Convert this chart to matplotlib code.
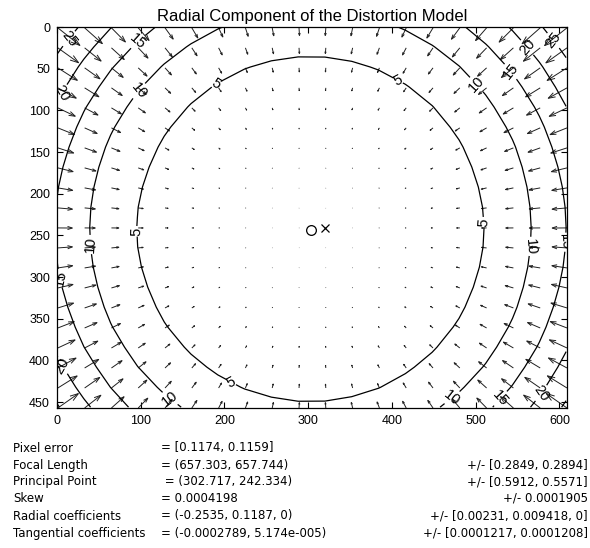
import numpy as np
import matplotlib.pyplot as plt
from matplotlib.collections import LineCollection

# calibration results
image_size = [640, 480]
focal_length = [657.303, 657.744]
principal_point = [302.717, 242.334]
skew = 0.0004198
radial_coeffs = [-0.2535, 0.1187, 0.0]
contour_levels = [5, 10, 15, 20, 25]

info_labels = ["Pixel error", "Focal Length", "Principal Point", "Skew",
               "Radial coefficients", "Tangential coefficients"]
info_values = ["= [0.1174, 0.1159]", "= (657.303, 657.744)", " = (302.717, 242.334)",
               "= 0.0004198", "= (-0.2535, 0.1187, 0)", "= (-0.0002789, 5.174e-005)"]
info_errors = ["", "+/- [0.2849, 0.2894]", "+/- [0.5912, 0.5571]",
               "+/- 0.0001905", "+/- [0.00231, 0.009418, 0]", "+/- [0.0001217, 0.0001208]"]

# where the contour labels sit (data coords)
label_spots = [(13, 13), (97, 18), (6, 79), (96, 75), (189, 67),
               (408, 63), (503, 67), (541, 54), (562, 24), (593, 16),
               (39, 261), (97, 245), (10, 300),
               (512, 234), (561, 263), (604, 258),
               (10, 404), (137, 443), (207, 428),
               (473, 446), (530, 446), (575, 437)]

nx, ny = image_size
fc = np.array(focal_length)
cc = np.array(principal_point)
k1, k2, k5 = radial_coeffs

# 20x20 grid of pixels, radial part of the distortion model only
mx, my = np.meshgrid(np.arange(0, nx, nx / 20), np.arange(0, ny, ny / 20))
px = mx.ravel()
py = my.ravel()
xn = (px - cc[0] - skew * fc[0] * (py - cc[1]) / fc[1]) / fc[0]
yn = (py - cc[1]) / fc[1]
r2 = xn ** 2 + yn ** 2
rad = k1 * r2 + k2 * r2 ** 2 + k5 * r2 ** 3
dx = fc[0] * xn * rad
dy = fc[1] * yn * rad
dr = np.sqrt(dx ** 2 + dy ** 2).reshape(mx.shape)

# matlab style quiver autoscale
n = np.sqrt(px.size)
delx = (px.max() - px.min()) / n
dely = (py.max() - py.min()) / n
s = 0.9 / np.max(np.sqrt((dx ** 2 + dy ** 2) / (delx ** 2 + dely ** 2)))
u = dx * s
v = dy * s
x0 = px + 1
y0 = py + 1
a, b = 0.33, 0.33
segs = []
for xi, yi, ui, vi in zip(x0, y0, u, v):
    tx, ty = xi + ui, yi + vi
    segs.append([(xi, yi), (tx, ty)])
    segs.append([(tx - a * (ui + b * vi), ty - a * (vi - b * ui)), (tx, ty),
                 (tx - a * (ui - b * vi), ty - a * (vi + b * ui))])

fig = plt.figure(figsize=(5.9, 5.48), dpi=100)
plt.rcParams['font.family'] = ['Liberation Sans', 'DejaVu Sans']
ax = fig.add_axes([57 / 590, 1 - 408 / 548, 510 / 590, 381 / 548])

ax.add_collection(LineCollection(segs, colors='#202020', linewidths=0.7))
ax.plot(cc[0] + 1, cc[1] + 1, 'o', mfc='none', mec='k', ms=7, mew=0.9)
ax.plot((nx - 1) / 2 + 1, (ny - 1) / 2 + 1, 'x', color='k', ms=6, mew=0.9)

cs = ax.contour(mx, my, dr, levels=contour_levels, colors='k', linewidths=0.9)
ax.clabel(cs, fmt='%d', fontsize=10.5, inline=True, inline_spacing=1, manual=label_spots)

ax.set_xlim(0, 609)
ax.set_ylim(457, 0)
ax.set_xticks(range(0, 601, 100))
ax.set_yticks(range(0, 451, 50))
ax.tick_params(direction='in', length=4, labelsize=9, pad=5, top=True, right=True)
for sp in ax.spines.values():
    sp.set_linewidth(0.9)
ax.set_title("Radial Component of the Distortion Model", fontsize=12, pad=4)

rows_y = [448, 465, 482, 498, 516, 533]
for i, yy in enumerate(rows_y):
    fy = 1 - yy / 548
    fig.text(13 / 590, fy, info_labels[i], fontsize=8.5, va='center', ha='left',
             family='DejaVu Sans')
    fig.text(161 / 590, fy, info_values[i], fontsize=8.5, va='center', ha='left',
             family='DejaVu Sans')
    if info_errors[i]:
        fig.text(588 / 590, fy, info_errors[i], fontsize=8.5, va='center', ha='right',
                 family='DejaVu Sans')

fig.savefig('out.png', dpi=100)
